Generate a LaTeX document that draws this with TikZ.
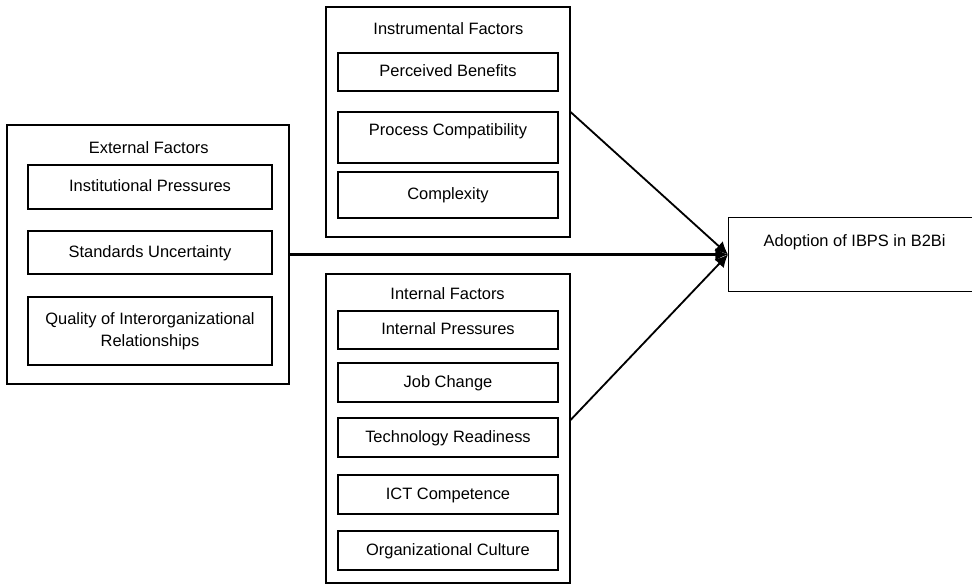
\documentclass[tikz,border=0pt]{standalone}
\usepackage{fontspec}
\setmainfont{Liberation Sans}
\usetikzlibrary{arrows.meta}

\begin{document}
\begin{tikzpicture}[scale=1,
  font=\fontsize{11.7}{15.6}\selectfont,
  outerbox/.style={draw, line width=0.8pt, inner sep=0pt},
  factor/.style={draw, line width=0.9pt, minimum width=#1, inner sep=0pt, align=center},
  factor/.default=5.5cm,
  oneline/.style={text height=0.29cm, text depth=0.04cm},
  link/.style={line width=1.3pt, -{Latex[length=9pt,width=9pt]}}]
\useasboundingbox (0,0) rectangle (24.3,14.6);
% external factors
\node [outerbox, minimum width=7.05cm, minimum height=6.475cm] (ext) at (3.7,8.2375) {};
\node (exttitle) at (3.72,10.9) {External Factors};
\node [factor=6.1cm, oneline, minimum height=1.1cm] (instpress) at (3.75,9.925) {Institutional Pressures};
\node [factor=6.1cm, oneline, minimum height=1.075cm] (standards) at (3.75,8.2875) {Standards Uncertainty};
\node [factor=6.1cm, minimum height=1.7cm] (quality) at (3.75,6.325) {Quality of Interorganizational\\Relationships};
% instrumental factors
\node [outerbox, minimum width=6.1cm, minimum height=5.75cm] (instr) at (11.2,11.55) {};
\node (instrtitle) at (11.21,13.89) {Instrumental Factors};
\node [factor, oneline, minimum height=0.95cm] (benefits) at (11.2,12.8) {Perceived Benefits};
\node [factor, text height=0.3cm, text depth=0.42cm, minimum height=1.275cm] (compat) at (11.2,11.1625) {Process Compatibility};
\node [factor, oneline, minimum height=1.15cm] (complex) at (11.2,9.725) {Complexity};
% internal factors
\node [outerbox, minimum width=6.1cm, minimum height=7.725cm] (intern) at (11.2,3.8875) {};
\node (interntitle) at (11.19,7.27) {Internal Factors};
\node [factor, oneline, minimum height=0.95cm] (intpress) at (11.2,6.35) {Internal Pressures};
\node [factor, oneline, minimum height=0.975cm] (jobchange) at (11.2,5.0375) {Job Change};
\node [factor, oneline, minimum height=0.975cm] (techready) at (11.2,3.6625) {Technology Readiness};
\node [factor, oneline, minimum height=0.975cm] (ictcomp) at (11.2,2.2375) {ICT Competence};
\node [factor, oneline, minimum height=0.975cm] (orgcult) at (11.2,0.8375) {Organizational Culture};
% outcome
\node [draw, line width=0.9pt, anchor=west, minimum width=6.3cm, minimum height=1.85cm,
       text height=0.3cm, text depth=0.716cm] (adopt) at (18.2,8.2375) {Adoption of IBPS in B2Bi};
% links
\draw [link] ([yshift=0.25cm]instr.east) -- (adopt.west);
\draw [link, line width=1.6pt] (ext.east) -- (adopt.west);
\draw [link] ([yshift=0.2125cm]intern.east) -- (adopt.west);
\end{tikzpicture}
\end{document}
